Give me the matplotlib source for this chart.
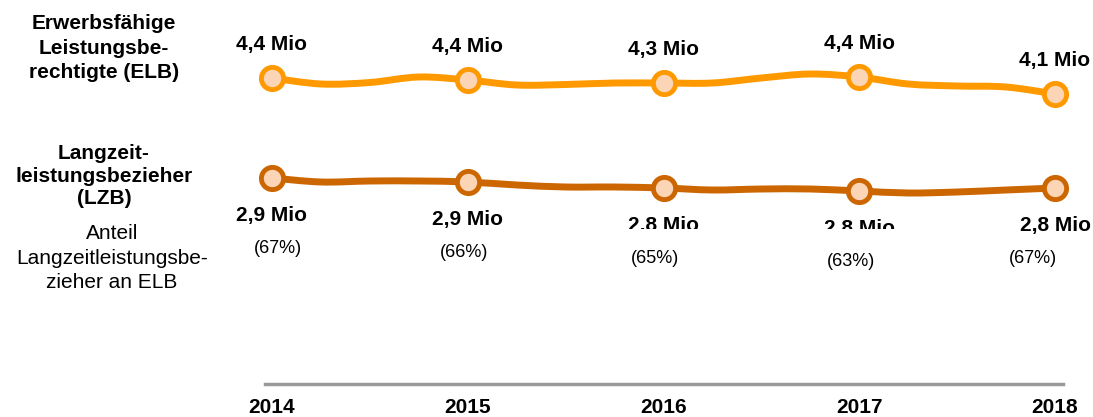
import matplotlib.pyplot as plt
from matplotlib.patches import PathPatch
from matplotlib.path import Path
from matplotlib.transforms import Bbox, TransformedBbox

plt.rcParams["font.family"] = ["Liberation Sans", "DejaVu Sans"]

# quarterly points, yearly markers on the full years
quarters = [2014 + i * 0.25 for i in range(17)]
elb_values = [4.40, 4.28, 4.31, 4.42, 4.36, 4.26, 4.27, 4.30, 4.30,
              4.30, 4.40, 4.48, 4.42, 4.28, 4.24, 4.22, 4.08]
lzb_values = [2.92, 2.88, 2.89, 2.89, 2.88, 2.85, 2.83, 2.83, 2.82,
              2.80, 2.81, 2.81, 2.79, 2.77, 2.78, 2.80, 2.82]
years = [2014, 2015, 2016, 2017, 2018]
elb_labels = ["4,4 Mio", "4,4 Mio", "4,3 Mio", "4,4 Mio", "4,1 Mio"]
lzb_labels = ["2,9 Mio", "2,9 Mio", "2,8 Mio", "2,8 Mio", "2,8 Mio"]
share_labels = ["(67%)", "(66%)", "(65%)", "(63%)", "(67%)"]

W, H = 1093, 417
ELB_COLOR = "#FF9900"
LZB_COLOR = "#CC6600"
FACE = "#FBD5B5"


def px_axes(fig, left, top, right, bottom):
    """Axes placed by pixel edges (top-left origin)."""
    ax = fig.add_axes([left / W, 1 - bottom / H, (right - left) / W, (bottom - top) / H])
    ax.set_axis_off()
    return ax


def smooth_path(xs, ys):
    """Catmull-Rom curve through the points, as cubic bezier segments."""
    pts = list(zip(xs, ys))
    verts = [pts[0]]
    codes = [Path.MOVETO]
    n = len(pts)
    for i in range(n - 1):
        p0 = pts[max(i - 1, 0)]
        p1 = pts[i]
        p2 = pts[i + 1]
        p3 = pts[min(i + 2, n - 1)]
        c1 = (p1[0] + (p2[0] - p0[0]) / 6, p1[1] + (p2[1] - p0[1]) / 6)
        c2 = (p2[0] - (p3[0] - p1[0]) / 6, p2[1] - (p3[1] - p1[1]) / 6)
        verts += [c1, c2, p2]
        codes += [Path.CURVE4] * 3
    return Path(verts, codes)


fig = plt.figure(figsize=(W / 100, H / 100), dpi=100)

ax_elb = px_axes(fig, 272, 30, 1055, 130)
ax_elb.set_xlim(2014, 2018)
ax_elb.set_ylim(3.36, 5.36)

ax_lzb = px_axes(fig, 272, 140, 1055, 240)
ax_lzb.set_xlim(2014, 2018)
ax_lzb.set_ylim(2.30, 3.30)

yearly = [quarters.index(y) for y in years]

for ax, vals, color in [(ax_elb, elb_values, ELB_COLOR), (ax_lzb, lzb_values, LZB_COLOR)]:
    line = PathPatch(smooth_path(quarters, vals), fill=False, edgecolor=color, lw=5,
                     joinstyle="round", capstyle="round", zorder=2)
    line.set_clip_on(False)
    ax.add_patch(line)
    ax.plot(years, [vals[i] for i in yearly], "o", ms=16, mfc=FACE, mec=color,
            mew=3.5, clip_on=False, zorder=3)

# value labels
for i, y in enumerate(years):
    v = elb_values[yearly[i]]
    ax_elb.annotate(elb_labels[i], (y, v), xytext=(0, 24), textcoords="offset points",
                    ha="center", va="center", fontsize=15, fontweight="bold")

clip = TransformedBbox(Bbox.from_extents(0, (H - 229) / H, 1, 1), fig.transFigure)
share_dx = [4, -3, -6, -6, -16]
for i, y in enumerate(years):
    v = lzb_values[yearly[i]]
    t = ax_lzb.annotate(lzb_labels[i], (y, v), xytext=(0, -27), textcoords="offset points",
                        ha="center", va="center", fontsize=15, fontweight="bold")
    if y in (2016, 2017):
        t.set_clip_box(clip)
        t.set_clip_on(True)
    ax_lzb.annotate(share_labels[i], (y, v), xytext=(share_dx[i], -51),
                    textcoords="offset points", ha="center", va="center", fontsize=13)

# bottom year axis
ax_year = fig.add_axes([265 / W, 1 - 384 / H, 798 / W, 1 / H])
ax_year.set_xlim(2014 - 7 / 195.75, 2018 + 8 / 195.75)
ax_year.set_yticks([])
for side in ["top", "left", "right"]:
    ax_year.spines[side].set_visible(False)
ax_year.spines["bottom"].set_color("#999999")
ax_year.spines["bottom"].set_linewidth(2.5)
ax_year.patch.set_visible(False)
ax_year.set_xticks(years)
ax_year.set_xticklabels([str(y) for y in years], fontsize=15, fontweight="bold")
ax_year.tick_params(axis="x", length=0, pad=10)

# left row titles
fig.text(104 / W, 1 - 48 / H, "Erwerbsfähige\nLeistungsbe-\nrechtigte (ELB)",
         ha="center", va="center", fontsize=15, fontweight="bold", linespacing=1.37)
fig.text(104 / W, 1 - 176 / H, "Langzeit-\nleistungsbezieher\n(LZB)",
         ha="center", va="center", fontsize=15, fontweight="bold", linespacing=1.24)
fig.text(112 / W, 1 - 258 / H, "Anteil\nLangzeitleistungsbe-\nzieher an ELB",
         ha="center", va="center", fontsize=15, linespacing=1.34)

fig.savefig("out.png", dpi=100)
